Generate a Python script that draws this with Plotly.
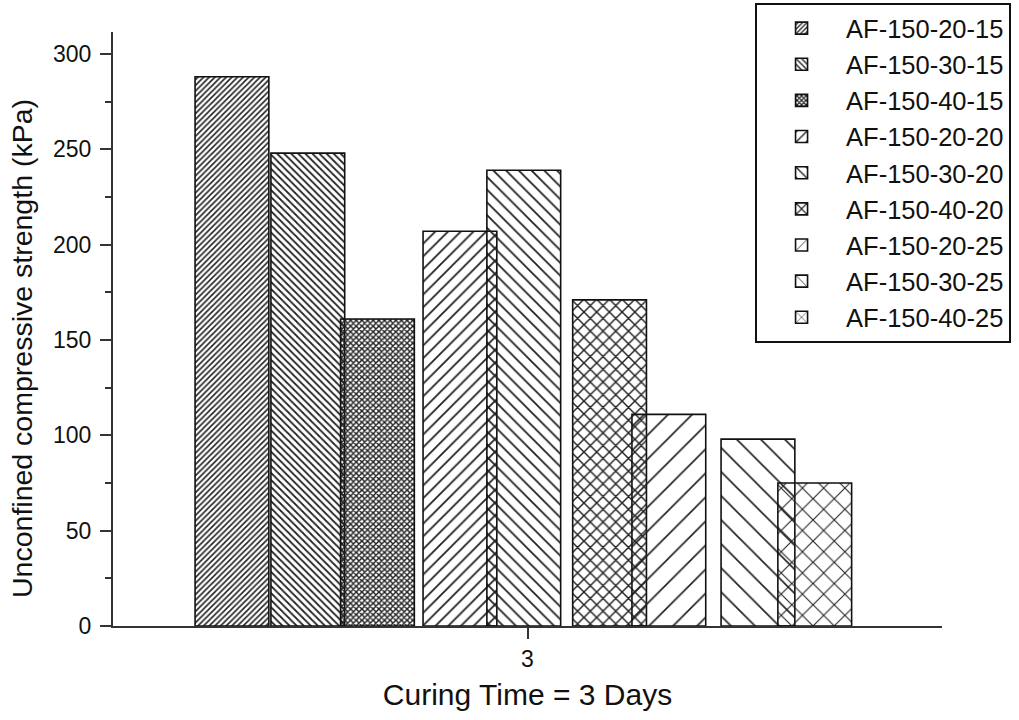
import plotly.graph_objects as go

# Unconfined compressive strength after 3 days of curing
curing_days = [3]
mix_names = [
    "AF-150-20-15", "AF-150-30-15", "AF-150-40-15",
    "AF-150-20-20", "AF-150-30-20", "AF-150-40-20",
    "AF-150-20-25", "AF-150-30-25", "AF-150-40-25",
]
ucs_kpa = [288, 248, 161, 207, 239, 171, 111, 98, 75]

# Bar placement around the single category (x units) and hatch styling
bar_offsets = [-0.802, -0.619, -0.451, -0.252, -0.098, 0.109, 0.252, 0.467, 0.604]
bar_width = 0.178
hatch_shape = ["/", "\\", "x", "/", "\\", "x", "/", "\\", "x"]
hatch_size = [4, 5, 4, 9, 9, 9, 17, 17, 15]
hatch_solid = [0.4, 0.35, 0.6, 0.2, 0.2, 0.3, 0.1, 0.1, 0.14]

fig = go.Figure()
for i, name in enumerate(mix_names):
    fig.add_trace(go.Bar(
        x=curing_days,
        y=[ucs_kpa[i]],
        name=name,
        offset=bar_offsets[i],
        width=bar_width,
        marker=dict(
            color="rgba(0,0,0,0)",
            line=dict(color="#111111", width=1.6),
            pattern=dict(
                shape=hatch_shape[i],
                size=hatch_size[i],
                solidity=hatch_solid[i],
                fgcolor="#222222",
                bgcolor="rgba(0,0,0,0)",
                fillmode="replace",
            ),
        ),
    ))

font_family = "Liberation Sans, Arial, sans-serif"
axis_font = dict(family=font_family, size=23, color="#111111")

fig.update_layout(
    width=1019,
    height=720,
    margin=dict(l=113, r=77, t=32, b=94, autoexpand=False),
    paper_bgcolor="white",
    plot_bgcolor="white",
    barmode="overlay",
    showlegend=True,
    legend=dict(
        x=0.7745, y=1.0488, xanchor="left", yanchor="top",
        bordercolor="#111111", borderwidth=2, bgcolor="white",
        font=dict(family=font_family, size=25.5, color="#111111"),
        itemwidth=79,
    ),
    xaxis=dict(
        range=[2, 4],
        tickvals=curing_days,
        ticktext=[str(d) for d in curing_days],
        ticks="outside", ticklen=11, tickwidth=2, tickcolor="#333333",
        showline=True, linecolor="#333333", linewidth=2,
        showgrid=False, zeroline=False,
        tickfont=axis_font,
        title=dict(text="Curing Time = 3 Days",
                   font=dict(family=font_family, size=30, color="#111111"), standoff=13),
    ),
    yaxis=dict(
        range=[0, 311.5],
        tickvals=[0, 50, 100, 150, 200, 250, 300],
        ticks="outside", ticklen=11, tickwidth=2, tickcolor="#333333",
        ticklabelstandoff=4,
        minor=dict(dtick=25, ticks="outside", ticklen=6, tickwidth=2, tickcolor="#333333"),
        showline=True, linecolor="#333333", linewidth=2,
        showgrid=False, zeroline=False,
        tickfont=axis_font,
    ),
    annotations=[dict(
        text="Unconfined compressive strength (kPa)",
        xref="paper", yref="paper",
        x=-0.1098, y=0.468, xanchor="center", yanchor="middle",
        textangle=-90, showarrow=False,
        font=dict(family=font_family, size=28.5, color="#111111"),
    )],
)

fig.write_html("out.html")
